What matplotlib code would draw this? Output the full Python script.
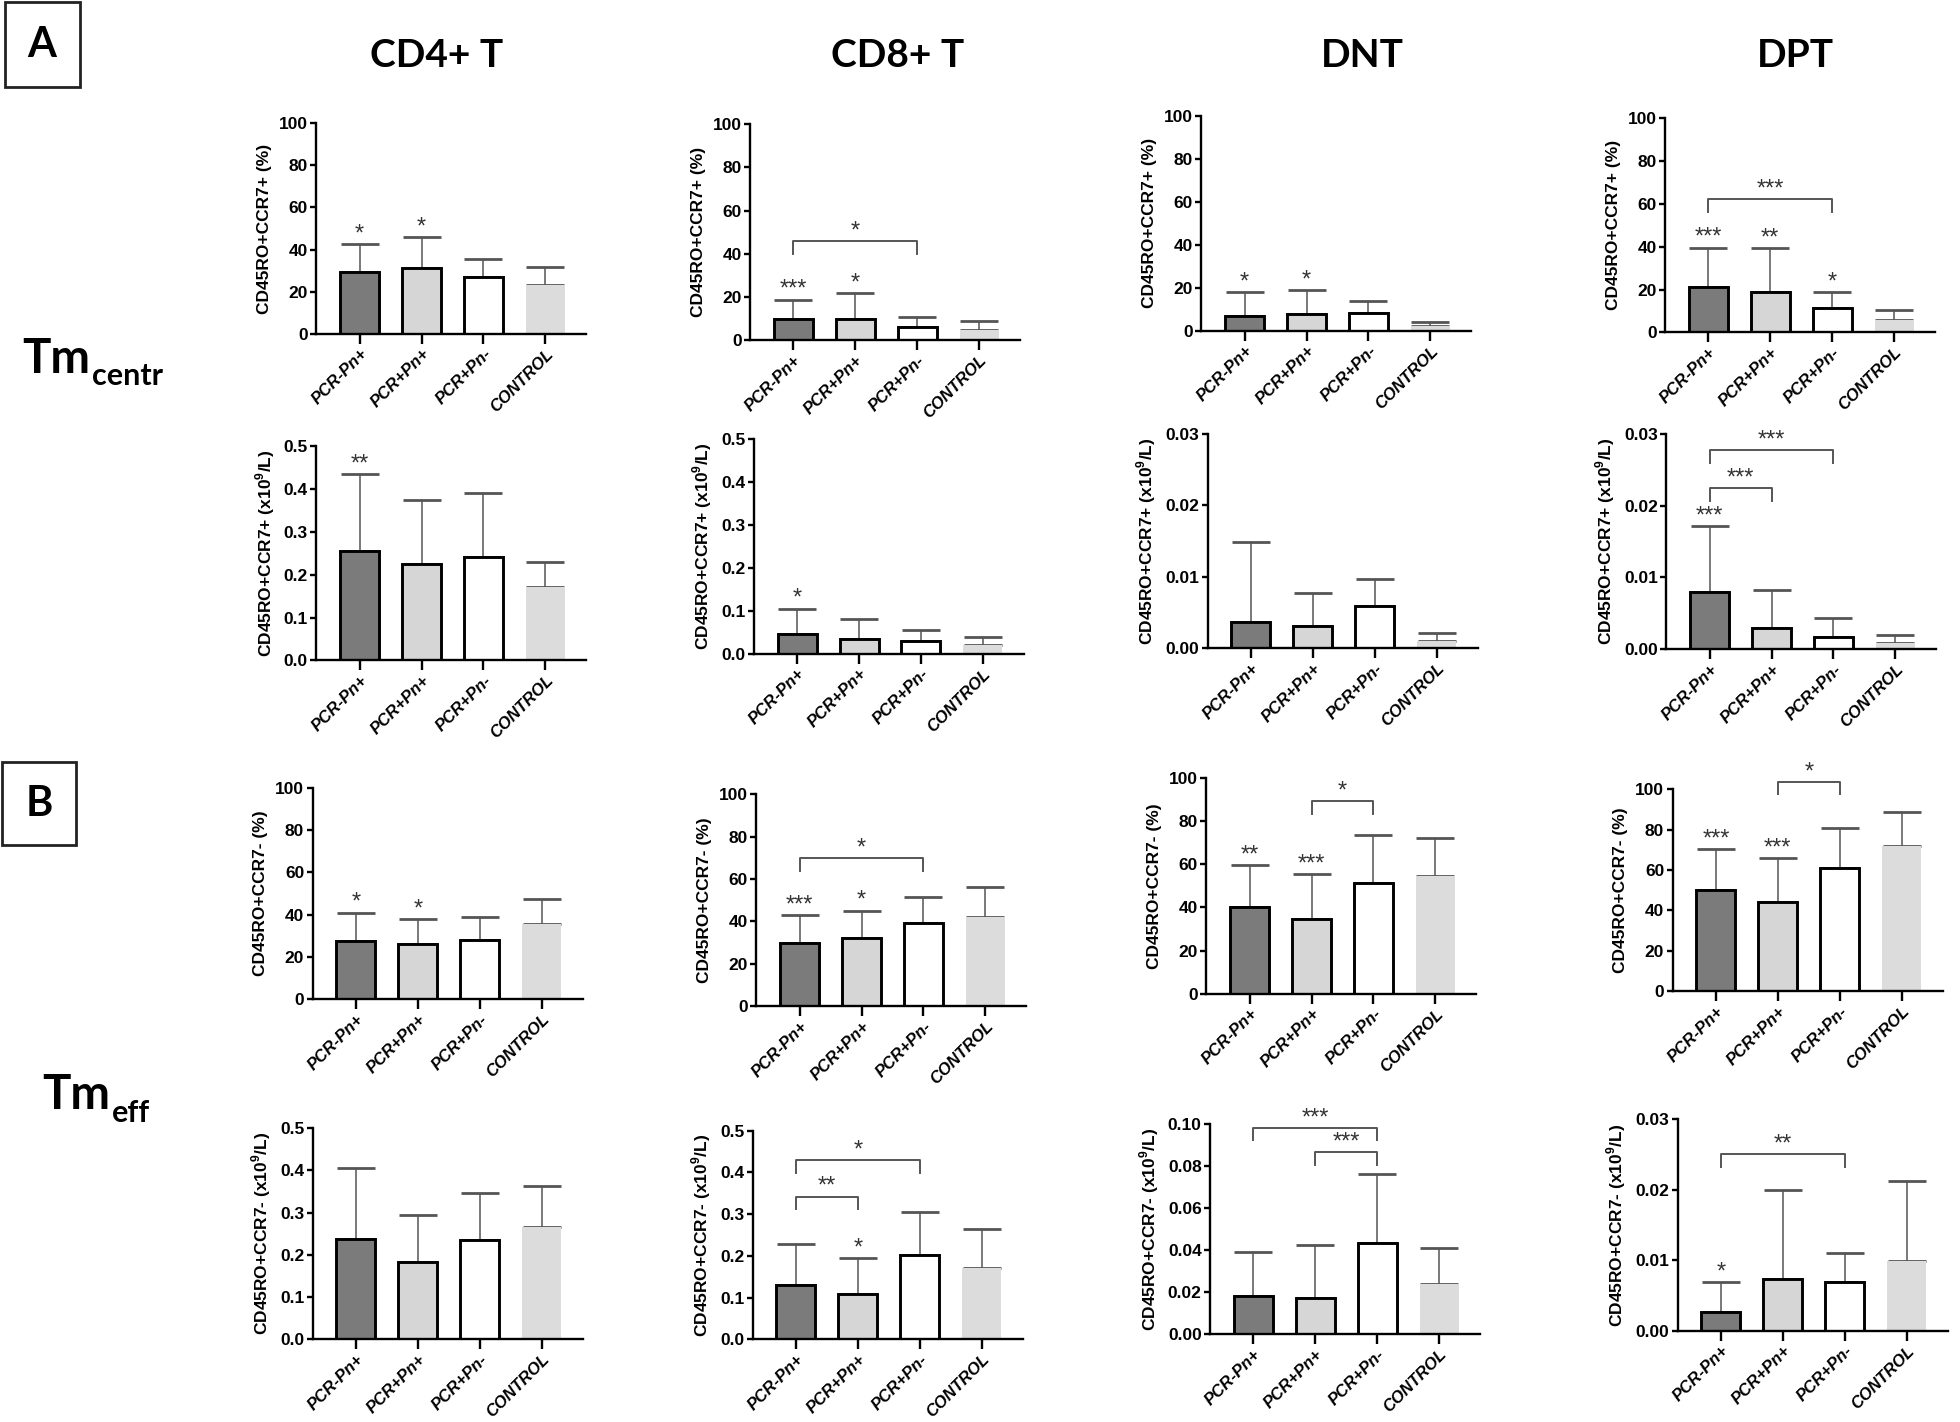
import matplotlib
matplotlib.use('Agg')
import matplotlib.pyplot as plt
import matplotlib.patches as patches
from matplotlib.text import Annotation
from matplotlib.ticker import FormatStrFormatter

plt.rcParams['font.family'] = ['Liberation Sans', 'DejaVu Sans']
plt.rcParams['mathtext.fontset'] = 'custom'
plt.rcParams['mathtext.rm'] = 'Liberation Sans'
plt.rcParams['mathtext.bf'] = 'Liberation Sans:bold'

# группы пациентов
groups = ['PCR-Pn+', 'PCR+Pn+', 'PCR+Pn-', 'CONTROL']
columns = ['CD4+ T', 'CD8+ T', 'DNT', 'DPT']

# Tm centr, %  (среднее и SD)
cd4_centr_pct = [29.5, 31.0, 27.0, 23.0]
cd4_centr_pct_sd = [13.0, 15.0, 8.5, 8.5]
cd8_centr_pct = [10.0, 10.0, 6.0, 4.9]
cd8_centr_pct_sd = [8.8, 11.9, 4.8, 4.2]
dnt_centr_pct = [7.1, 7.9, 8.4, 2.2]
dnt_centr_pct_sd = [11.1, 11.0, 5.6, 2.0]
dpt_centr_pct = [21.3, 18.8, 11.2, 5.8]
dpt_centr_pct_sd = [18.3, 20.6, 7.8, 4.8]

# Tm centr, x10^9/L
cd4_centr_abs = [0.255, 0.226, 0.241, 0.171]
cd4_centr_abs_sd = [0.180, 0.148, 0.150, 0.060]
cd8_centr_abs = [0.047, 0.034, 0.030, 0.020]
cd8_centr_abs_sd = [0.058, 0.046, 0.026, 0.019]
dnt_centr_abs = [0.0037, 0.0031, 0.0059, 0.0011]
dnt_centr_abs_sd = [0.0112, 0.0047, 0.0038, 0.0011]
dpt_centr_abs = [0.0079, 0.0029, 0.0017, 0.0008]
dpt_centr_abs_sd = [0.0092, 0.0053, 0.0026, 0.0012]

# Tm eff, %
cd4_eff_pct = [27.6, 26.0, 28.2, 35.5]
cd4_eff_pct_sd = [13.4, 12.0, 10.9, 12.1]
cd8_eff_pct = [29.7, 32.0, 39.0, 42.1]
cd8_eff_pct_sd = [13.4, 13.1, 12.6, 14.2]
dnt_eff_pct = [40.2, 34.8, 51.5, 54.6]
dnt_eff_pct_sd = [19.3, 20.7, 22.2, 17.4]
dpt_eff_pct = [49.9, 44.3, 61.0, 71.7]
dpt_eff_pct_sd = [20.5, 21.7, 19.8, 16.9]

# Tm eff, x10^9/L
cd4_eff_abs = [0.237, 0.183, 0.236, 0.265]
cd4_eff_abs_sd = [0.169, 0.112, 0.111, 0.098]
cd8_eff_abs = [0.130, 0.110, 0.203, 0.171]
cd8_eff_abs_sd = [0.099, 0.085, 0.103, 0.094]
dnt_eff_abs = [0.0185, 0.0172, 0.0434, 0.0242]
dnt_eff_abs_sd = [0.0209, 0.0254, 0.0332, 0.0168]
dpt_eff_abs = [0.0026, 0.0074, 0.0069, 0.0099]
dpt_eff_abs_sd = [0.0043, 0.0125, 0.0041, 0.0114]

# звёздочки над столбцами
stars_centr_pct = [['*', '*', '', ''], ['***', '*', '', ''], ['*', '*', '', ''], ['***', '**', '*', '']]
stars_centr_abs = [['**', '', '', ''], ['*', '', '', ''], ['', '', '', ''], ['***', '', '', '']]
stars_eff_pct = [['*', '*', '', ''], ['***', '*', '', ''], ['**', '***', '', ''], ['***', '***', '', '']]
stars_eff_abs = [['', '', '', ''], ['', '*', '', ''], ['', '', '', ''], ['*', '', '', '']]

# скобки сравнений: (группа1, группа2, уровень, метка)
brackets_centr_pct = [[], [(0, 2, 45.8, '*')], [], [(0, 2, 62.3, '***')]]
brackets_centr_abs = [[], [], [], [(0, 1, 0.0224, '***'), (0, 2, 0.0277, '***')]]
brackets_eff_pct = [[], [(0, 2, 69.7, '*')], [(1, 2, 89.2, '*')], [(1, 2, 103.5, '*')]]
brackets_eff_abs = [[], [(0, 1, 0.342, '**'), (0, 2, 0.429, '*')],
                    [(0, 2, 0.0984, '***'), (1, 2, 0.0866, '***')], [(0, 2, 0.0251, '**')]]

rows = [
    ([cd4_centr_pct, cd8_centr_pct, dnt_centr_pct, dpt_centr_pct],
     [cd4_centr_pct_sd, cd8_centr_pct_sd, dnt_centr_pct_sd, dpt_centr_pct_sd],
     stars_centr_pct, brackets_centr_pct, 'CD45RO+CCR7+ (%)',
     [100, 100, 100, 100], [20, 20, 20, 20], ['%d'] * 4),
    ([cd4_centr_abs, cd8_centr_abs, dnt_centr_abs, dpt_centr_abs],
     [cd4_centr_abs_sd, cd8_centr_abs_sd, dnt_centr_abs_sd, dpt_centr_abs_sd],
     stars_centr_abs, brackets_centr_abs, r'CD45RO+CCR7+ (x10$^{\mathbf{9}}$/L)',
     [0.5, 0.5, 0.03, 0.03], [0.1, 0.1, 0.01, 0.01], ['%.1f', '%.1f', '%.2f', '%.2f']),
    ([cd4_eff_pct, cd8_eff_pct, dnt_eff_pct, dpt_eff_pct],
     [cd4_eff_pct_sd, cd8_eff_pct_sd, dnt_eff_pct_sd, dpt_eff_pct_sd],
     stars_eff_pct, brackets_eff_pct, 'CD45RO+CCR7- (%)',
     [100, 100, 100, 100], [20, 20, 20, 20], ['%d'] * 4),
    ([cd4_eff_abs, cd8_eff_abs, dnt_eff_abs, dpt_eff_abs],
     [cd4_eff_abs_sd, cd8_eff_abs_sd, dnt_eff_abs_sd, dpt_eff_abs_sd],
     stars_eff_abs, brackets_eff_abs, r'CD45RO+CCR7- (x10$^{\mathbf{9}}$/L)',
     [0.5, 0.5, 0.10, 0.03], [0.1, 0.1, 0.02, 0.01], ['%.1f', '%.1f', '%.2f', '%.2f']),
]

# положение осей (в пикселях картинки-образца 1568x1137)
W, H = 1568.0, 1137.0
lefts = [[253, 600, 961, 1332], [253, 603, 966, 1333], [250, 605, 965, 1338], [250, 602, 968, 1342]]
spans = [[(98.7, 266.7), (99.2, 272), (92.8, 264.5), (94.6, 265.8)],
         [(357, 528), (351, 522.7), (347, 518.5), (347, 519)],
         [(630, 799), (635, 804.5), (622, 794.6), (631, 792.5)],
         [(902, 1071), (904, 1071), (899, 1067), (895, 1064)]]
ax_w = 216

fill_colors = ['#7b7b7b', '#d6d6d6', 'white', '#dcdcdc']
edge_colors = ['black', 'black', 'black', 'none']

fig = plt.figure(figsize=(19.6, 14.22), dpi=100)


def draw_panel(ax, means, sds, stars, brackets, ylabel, ytop, ystep, fmt):
    x = list(range(len(groups)))
    ax.errorbar(x, means, yerr=[[0] * 4, sds], fmt='none', ecolor='#555555',
                elinewidth=1.1, capsize=14, capthick=2.0, zorder=1)
    ax.bar(x, means, width=0.63, color=fill_colors, edgecolor=edge_colors,
           linewidth=2.1, zorder=2)
    ax.set_xlim(-0.7, 3.66)
    ax.set_ylim(0, ytop)
    n = int(round(ytop / ystep))
    ax.set_yticks([ystep * k for k in range(n + 1)])
    ax.yaxis.set_major_formatter(FormatStrFormatter(fmt))
    ax.set_xticks(x)
    ax.set_xticklabels(groups, rotation=45, ha='right', rotation_mode='anchor',
                       fontstyle='italic', fontweight='bold', fontsize=12)
    for lab in ax.get_yticklabels():
        lab.set_fontweight('bold')
        lab.set_fontsize(12.5)
    ax.set_ylabel(ylabel, fontweight='bold', fontsize=12.5, labelpad=5)
    for s in ['top', 'right']:
        ax.spines[s].set_visible(False)
    for s in ['left', 'bottom']:
        ax.spines[s].set_linewidth(1.7)
    ax.tick_params(axis='y', width=1.7, length=4, pad=2)
    ax.tick_params(axis='x', width=1.7, length=7, pad=2)
    ax.patch.set_alpha(0)

    for i, s in enumerate(stars):
        if s:
            ax.annotate(s, xy=(i, means[i] + sds[i]), xytext=(0, -1),
                        textcoords='offset points', ha='center', va='bottom',
                        fontsize=17, color='#333333')
    leg = 0.06 * ytop
    for (i, j, y, lab) in brackets:
        ax.plot([i, i, j, j], [y - leg, y, y, y - leg], color='#555555',
                lw=1.4, clip_on=False, zorder=3)
        ax.annotate(lab, xy=((i + j) / 2, y), xytext=(0, -1),
                    textcoords='offset points', ha='center', va='bottom',
                    fontsize=17, color='#333333', annotation_clip=False)


for r, (means_l, sds_l, stars_l, br_l, ylabel, ytops, ysteps, fmts) in enumerate(rows):
    for c in range(4):
        top, bot = spans[r][c]
        ax = fig.add_axes([lefts[r][c] / W, 1 - bot / H, ax_w / W, (bot - top) / H])
        draw_panel(ax, means_l[c], sds_l[c], stars_l[c], br_l[c], ylabel,
                   ytops[c], ysteps[c], fmts[c])

# заголовки столбцов
title_x = [349, 718, 1090, 1436]
for c, name in enumerate(columns):
    fig.text(title_x[c] / W, 1 - 44 / H, name, ha='center', va='center',
             fontsize=28, fontweight='bold', family='Lato')

# подписи строк: Tm с нижним индексом
for (x0, yb, sub) in [(18, 298, 'centr'), (34, 887, 'eff')]:
    t = fig.text(x0 / W, 1 - yb / H, 'Tm', ha='left', va='baseline', fontsize=34,
                 fontweight='bold', family='Lato')
    fig.add_artist(Annotation(sub, xy=(1, 0), xycoords=t, xytext=(1, -3),
                              textcoords='offset points', ha='left', va='baseline',
                              fontsize=22, fontweight='bold', family='Lato'))

# рамки A и B
for (x0, y0, x1, y1, lab) in [(3.6, 1.4, 63.6, 69.9, 'A'), (1.8, 609, 60.6, 676, 'B')]:
    fig.add_artist(patches.Rectangle((x0 / W, 1 - y1 / H), (x1 - x0) / W, (y1 - y0) / H,
                                     transform=fig.transFigure, fill=False,
                                     lw=2, edgecolor='#222222'))
    fig.text((x0 + x1) / 2 / W, 1 - (y0 + y1) / 2 / H, lab, ha='center',
             va='center', fontsize=30, fontweight='bold', family='Lato')

fig.savefig('out.png', dpi=100)
